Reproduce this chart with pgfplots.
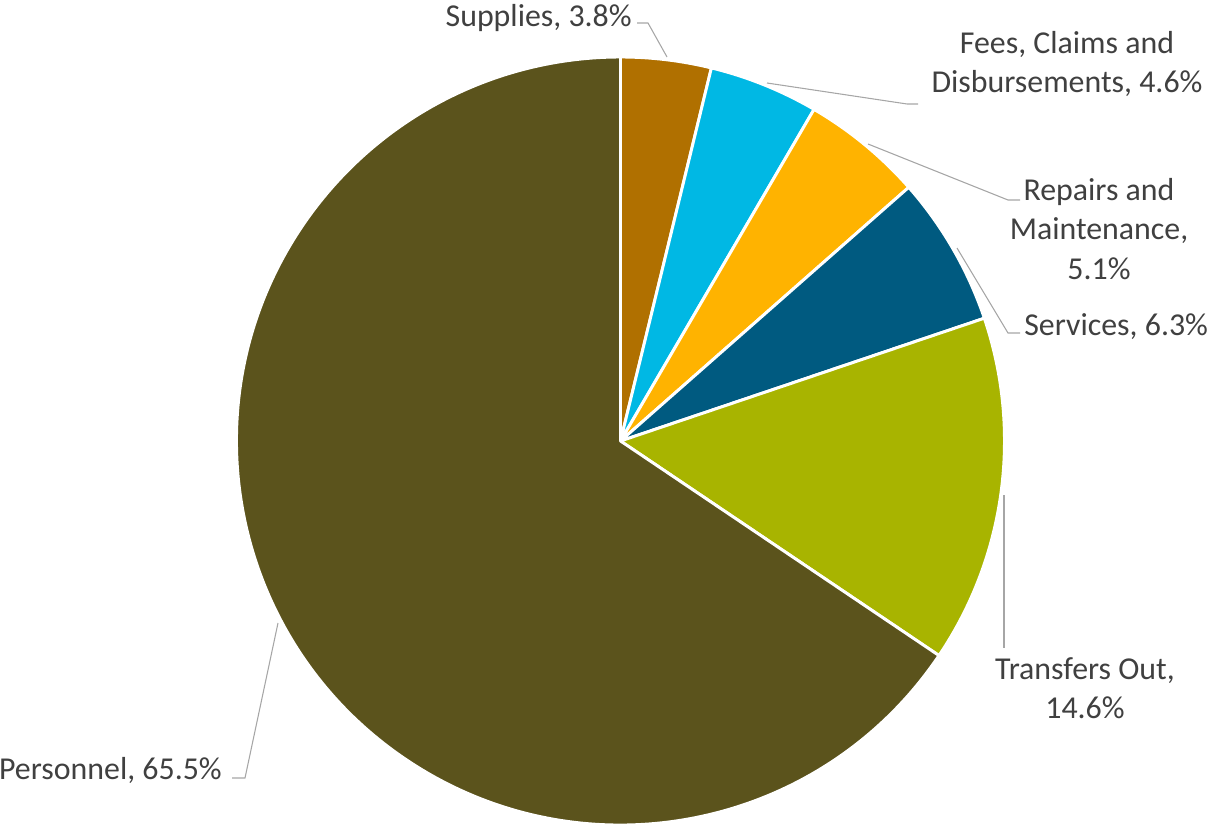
\documentclass[border=0pt]{standalone}
\usepackage{pgfplots}
\usepackage{pgfplotstable}
\pgfplotsset{compat=1.18}
\usepackage{fontspec}
\setmainfont{Carlito}
\definecolor{supC}{HTML}{B07000}
\definecolor{feeC}{HTML}{00B8E4}
\definecolor{repC}{HTML}{FFB300}
\definecolor{serC}{HTML}{005A80}
\definecolor{traC}{HTML}{A8B400}
\definecolor{perC}{HTML}{5B531C}
\definecolor{txtC}{HTML}{404040}
\definecolor{leadC}{HTML}{A6A6A6}
\newcommand\lblfont{\fontsize{23.9}{29}\selectfont}
\tikzset{lbl/.style={font=\lblfont, text=txtC, inner sep=0pt}}
\pgfplotstableread{
label value col
Supplies 3.8 supC
Fees 4.6 feeC
Repairs 5.1 repC
Services 6.3 serC
Transfers 14.6 traC
Personnel 65.5 perC
}\datatable
\begin{document}
\begin{tikzpicture}
\def\cum{0}
\pgfplotsforeachungrouped \i in {0,...,5}{%
  \pgfplotstablegetelem{\i}{value}\of\datatable
  \pgfmathsetmacro\cum{\cum+\pgfplotsretval}%
}
\let\total\cum
\begin{axis}[x=0.75pt, y=0.75pt, y dir=reverse,
  xmin=0, xmax=1209, ymin=0, ymax=827,
  hide axis, clip=false]
\coordinate (BL) at (axis cs:0,827);
\coordinate (TR) at (axis cs:1209,0);
\def\cum{0}
\pgfplotsforeachungrouped \i in {0,...,5}{%
  \pgfplotstablegetelem{\i}{value}\of\datatable
  \let\v\pgfplotsretval
  \pgfmathsetmacro\sa{90-\cum/\total*360}%
  \pgfmathsetmacro\cum{\cum+\v}%
  \pgfmathsetmacro\ea{90-\cum/\total*360}%
  \pgfplotstablegetelem{\i}{col}\of\datatable
  \edef\temp{\noexpand\fill[\pgfplotsretval, draw=white, line width=2.2pt, line join=round] (axis cs:620.5,441) -- ++(\sa:288pt) arc[start angle=\sa, end angle=\ea, radius=288pt] -- cycle;}%
  \temp
}
% leader lines
\draw[leadC, line width=0.8pt] (axis cs:637,23) -- (axis cs:648,23) -- (axis cs:667,57);
\draw[leadC, line width=0.8pt] (axis cs:767,83) -- (axis cs:907,104) -- (axis cs:918,104);
\draw[leadC, line width=0.8pt] (axis cs:868,144) -- (axis cs:1008,200) -- (axis cs:1020,200);
\draw[leadC, line width=0.8pt] (axis cs:957,248) -- (axis cs:1008,333) -- (axis cs:1020,333);
\draw[leadC, line width=0.8pt] (axis cs:1004,495) -- (axis cs:1004,648);
\draw[leadC, line width=0.8pt] (axis cs:232,778) -- (axis cs:245,778) -- (axis cs:278,623);
% labels
\node[lbl, anchor=base east] at (axis cs:632,27) {Supplies, 3.8\%};
\node[lbl, anchor=base] at (axis cs:1067,54) {Fees, Claims and};
\node[lbl, anchor=base] at (axis cs:1067,93) {Disbursements, 4.6\%};
\node[lbl, anchor=base] at (axis cs:1099,201) {Repairs and};
\node[lbl, anchor=base] at (axis cs:1099,240) {Maintenance,};
\node[lbl, anchor=base] at (axis cs:1099,279) {5.1\%};
\node[lbl, anchor=base west] at (axis cs:1024,335) {Services, 6.3\%};
\node[lbl, anchor=base] at (axis cs:1085,679) {Transfers Out,};
\node[lbl, anchor=base] at (axis cs:1085,718) {14.6\%};
\node[lbl, anchor=base east] at (axis cs:222,779) {Personnel, 65.5\%};
\end{axis}
\pgfresetboundingbox
\useasboundingbox (BL) rectangle (TR);
\end{tikzpicture}
\end{document}
